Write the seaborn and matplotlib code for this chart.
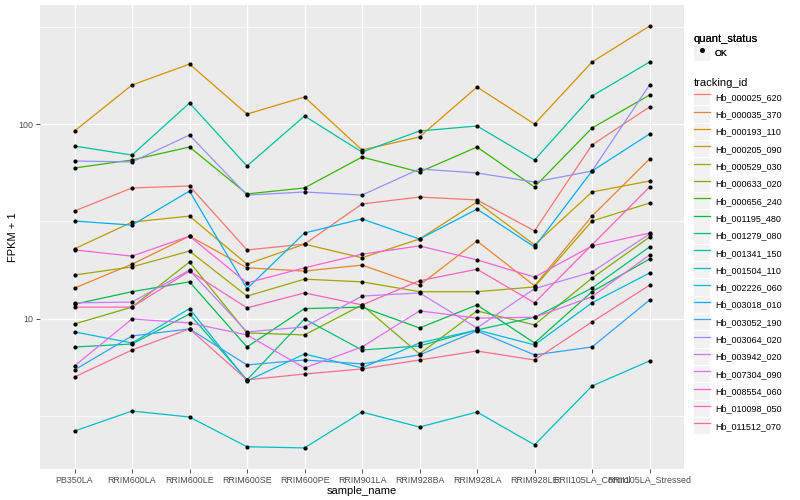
import numpy as np
import pandas as pd
import seaborn as sns
import matplotlib.pyplot as plt
from matplotlib.lines import Line2D
from matplotlib.patches import Rectangle
from matplotlib.legend_handler import HandlerLine2D

# === DATA (FPKM + 1) ===
samples = ['PB350LA', 'RRIM600LA', 'RRIM600LE', 'RRIM600SE', 'RRIM600PE', 'RRIM901LA',
           'RRIM928BA', 'RRIM928LA', 'RRIM928LE', 'RRII105LA_Control', 'RRII105LA_Stressed']

hb_000025_620 = [35.8, 47.0, 48.1, 22.6, 24.2, 38.9, 42.2, 40.8, 28.3, 78.1, 122.3]
hb_000035_370 = [14.4, 19.1, 26.6, 18.3, 17.6, 18.9, 14.9, 25.1, 14.8, 33.7, 66.1]
hb_000193_110 = [92.1, 158.5, 203.0, 112.5, 137.6, 73.6, 85.8, 154.8, 100.0, 208.0, 318.0]
hb_000205_090 = [22.9, 31.4, 33.7, 19.1, 24.2, 20.6, 25.7, 39.8, 24.0, 44.8, 51.0]
hb_000529_030 = [16.8, 18.5, 22.3, 13.1, 16.0, 15.5, 13.8, 13.8, 14.6, 31.8, 39.3]
hb_000633_020 = [9.43, 11.5, 19.6, 8.48, 8.28, 11.8, 6.61, 11.0, 9.32, 16.2, 26.3]
hb_000656_240 = [59.5, 65.4, 76.2, 43.8, 47.0, 67.7, 56.7, 76.2, 47.5, 95.4, 140.8]
hb_001195_480 = [11.9, 13.8, 15.5, 7.18, 11.3, 11.5, 8.99, 11.8, 7.53, 13.8, 20.3]
hb_001279_080 = [7.18, 7.44, 10.6, 4.87, 10.0, 6.93, 7.27, 8.78, 10.2, 14.4, 23.4]
hb_001341_150 = [77.1, 69.3, 128.2, 60.9, 109.9, 71.8, 92.1, 97.7, 65.4, 139.2, 208.0]
hb_001504_110 = [2.66, 3.37, 3.14, 2.21, 2.18, 3.33, 2.79, 3.33, 2.26, 4.53, 6.09]
hb_002226_060 = [8.58, 7.53, 11.3, 4.81, 6.61, 5.61, 7.53, 8.78, 7.36, 12.1, 17.2]
hb_003018_010 = [31.8, 30.3, 45.3, 14.3, 27.6, 32.6, 25.7, 36.6, 23.4, 57.4, 88.9]
hb_003052_190 = [5.48, 8.18, 8.89, 5.81, 6.16, 5.88, 6.54, 8.68, 6.54, 7.18, 12.5]
hb_003064_020 = [64.6, 63.9, 87.8, 43.2, 44.8, 43.2, 58.8, 56.1, 50.4, 57.4, 158.5]
hb_003942_020 = [12.1, 12.2, 17.8, 8.58, 9.10, 13.1, 13.6, 8.99, 14.3, 17.4, 27.3]
hb_007304_090 = [5.74, 10.0, 9.54, 8.28, 5.61, 7.18, 11.0, 10.1, 10.2, 13.0, 21.3]
hb_008554_060 = [22.6, 21.0, 26.6, 15.3, 18.3, 21.5, 23.7, 20.1, 16.4, 23.7, 27.6]
hb_010098_050 = [11.5, 11.5, 17.6, 11.4, 13.6, 11.8, 15.7, 18.0, 12.1, 24.0, 47.5]
hb_011512_070 = [5.04, 6.93, 8.89, 4.87, 5.22, 5.54, 6.16, 6.85, 6.16, 9.65, 14.9]

tracking_ids = ['Hb_000025_620', 'Hb_000035_370', 'Hb_000193_110', 'Hb_000205_090',
                'Hb_000529_030', 'Hb_000633_020', 'Hb_000656_240', 'Hb_001195_480',
                'Hb_001279_080', 'Hb_001341_150', 'Hb_001504_110', 'Hb_002226_060',
                'Hb_003018_010', 'Hb_003052_190', 'Hb_003064_020', 'Hb_003942_020',
                'Hb_007304_090', 'Hb_008554_060', 'Hb_010098_050', 'Hb_011512_070']
series = [hb_000025_620, hb_000035_370, hb_000193_110, hb_000205_090, hb_000529_030,
          hb_000633_020, hb_000656_240, hb_001195_480, hb_001279_080, hb_001341_150,
          hb_001504_110, hb_002226_060, hb_003018_010, hb_003052_190, hb_003064_020,
          hb_003942_020, hb_007304_090, hb_008554_060, hb_010098_050, hb_011512_070]

# ggplot2 default hue palette for 20 levels
colors = ['#F8766D', '#EA8331', '#D89000', '#C09B00', '#A3A500', '#7CAE00', '#39B600',
          '#00BB4E', '#00BF7D', '#00C1A3', '#00BFC4', '#00BAE0', '#00B0F6', '#35A2FF',
          '#9590FF', '#C77CFF', '#E76BF3', '#FA62DB', '#FF62BC', '#FF6C91']

rows = []
for tid, vals in zip(tracking_ids, series):
    for i, v in enumerate(vals):
        rows.append({'tracking_id': tid, 'pos': i, 'sample_name': samples[i], 'fpkm': v})
df = pd.DataFrame(rows)

# === PLOT ===
plt.rcParams['font.family'] = ['Liberation Sans', 'DejaVu Sans']
fig = plt.figure(figsize=(8, 5), dpi=100)
ax = fig.add_axes([40 / 800, 1 - 469 / 500, 644 / 800, 464 / 500])
ax.set_facecolor('#EBEBEB')

sns.lineplot(data=df, x='pos', y='fpkm', hue='tracking_id', hue_order=tracking_ids,
             palette=colors, linewidth=0.9, estimator=None, sort=False, legend=False, ax=ax)
sns.scatterplot(data=df, x='pos', y='fpkm', color='black', s=9, linewidth=0,
                legend=False, ax=ax, zorder=3)

ax.set_yscale('log')
lo, hi = np.log10(df['fpkm'].min()), np.log10(df['fpkm'].max())
pad = (hi - lo) * 0.05
ax.set_ylim(10 ** (lo - pad), 10 ** (hi + pad))
ax.set_xlim(-0.6, len(samples) - 0.4)

ax.set_yticks([10, 100])
ax.set_yticklabels(['10', '100'])
ax.set_yticks([10 ** 0.5, 10 ** 1.5, 10 ** 2.5], minor=True)
ax.set_yticklabels([], minor=True)
ax.set_xticks(range(len(samples)))
ax.set_xticklabels(samples)
ax.set_xticks([], minor=True)

ax.grid(which='major', color='white', linewidth=1.0)
ax.grid(which='minor', axis='y', color='white', linewidth=0.5)
ax.set_axisbelow(True)
for s in ax.spines.values():
    s.set_visible(False)
ax.tick_params(which='major', length=2.7, width=0.6, color='#333333',
               labelcolor='#4D4D4D', labelsize=6.4, pad=2)
ax.tick_params(which='minor', length=0)

ax.set_xlabel('sample_name', fontsize=8, labelpad=1)
ax.set_ylabel('FPKM + 1', fontsize=8, labelpad=0)


# legend keys with grey background like ggplot
class KeyHandler(HandlerLine2D):
    def create_artists(self, legend, orig_handle, xdescent, ydescent, width, height,
                       fontsize, trans):
        bg = Rectangle((-xdescent, -ydescent), width, height, facecolor='#F2F2F2',
                       edgecolor='none', transform=trans)
        arts = super().create_artists(legend, orig_handle, xdescent, ydescent,
                                      width, height, fontsize, trans)
        return [bg] + list(arts)


leg_kw = dict(loc='upper left', frameon=False, borderpad=0, borderaxespad=0,
              fontsize=6.5, title_fontsize=8, handlelength=1.8, handleheight=2.42,
              labelspacing=0.1, handletextpad=0.5, numpoints=1, alignment='left')

ok_handle = Line2D([], [], color='black', marker='o', linestyle='none', markersize=2.6)
leg1 = fig.legend([ok_handle], ['OK'], title='quant_status',
                  bbox_to_anchor=(694 / 800, 1 - 34 / 500),
                  handler_map={Line2D: KeyHandler()}, **leg_kw)

line_handles = [Line2D([], [], color=c, linewidth=0.9) for c in colors]
leg2 = fig.legend(line_handles, tracking_ids, title='tracking_id',
                  bbox_to_anchor=(694 / 800, 1 - 78 / 500),
                  handler_map={Line2D: KeyHandler()}, **leg_kw)
fig.add_artist(leg1)

fig.savefig('out.png', dpi=100)
